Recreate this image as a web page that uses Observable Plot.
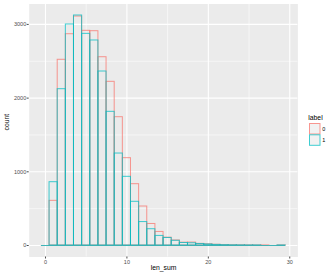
<!DOCTYPE html>
<html>
<head>
<meta charset="utf-8">
<script src="https://cdn.jsdelivr.net/npm/d3@7"></script>
<script src="https://cdn.jsdelivr.net/npm/@observablehq/plot@0.6"></script>
<style>
  html, body { margin: 0; padding: 0; background: white; }
  #wrap { position: relative; width: 333px; height: 278px; font-family: "Liberation Sans", Arial, sans-serif; }
  #legend { position: absolute; left: 0; top: 0; }
</style>
</head>
<body>
<div id="wrap"></div>
<script>
// bin centres (binwidth 1)
const bins = [0,1,2,3,4,5,6,7,8,9,10,11,12,13,14,15,16,17,18,19,20,21,22,23,24,25,26,27,28,29];
// counts for label "0"
const count0 = [0,606,2520,2867,3107,2913,2908,2555,2221,1741,1185,832,529,292,184,106,68,38,40,22,17,10,6,4,3,2,1,1,0,1];
// counts for label "1"
const count1 = [0,859,2121,2999,3121,2872,2782,2361,1814,1248,932,593,318,221,130,102,64,34,30,20,14,8,5,3,2,1,1,0,0,1];
const labels = ["0","1"];
const colors = ["#F8766D","#00BFC4"];
const xTicks = [0,10,20,30];
const xMinor = [5,15,25];
const yTicks = [0,1000,2000,3000];
const yMinor = [500,1500,2500];

const data = [];
[count0, count1].forEach((arr, k) => {
  bins.forEach((b, i) => data.push({label: labels[k], x: b, n: arr[i]}));
});

const lo = d3.min(bins) - 0.5, hi = d3.max(bins) + 0.5;
const xpad = (hi - lo) * 0.05;
const ymax = d3.max(data, d => d.n);
const ypad = ymax * 0.05;

const chart = Plot.plot({
  width: 333, height: 278,
  marginLeft: 28.7, marginRight: 35.6, marginTop: 3.5, marginBottom: 21.5,
  style: {background: "white", fontFamily: "'Liberation Sans', Arial, sans-serif"},
  x: {domain: [lo - xpad, hi + xpad], label: null},
  y: {domain: [-ypad, ymax + ypad], label: null},
  color: {domain: labels, range: colors},
  marks: [
    Plot.frame({fill: "#EBEBEB", stroke: null}),
    Plot.gridX(xMinor, {stroke: "white", strokeOpacity: 1, strokeWidth: 0.55}),
    Plot.gridX(xTicks, {stroke: "white", strokeOpacity: 1, strokeWidth: 1.1}),
    Plot.gridY(yMinor, {stroke: "white", strokeOpacity: 1, strokeWidth: 0.55}),
    Plot.gridY(yTicks, {stroke: "white", strokeOpacity: 1, strokeWidth: 1.1}),
    Plot.rect(data, {x1: d => d.x - 0.5, x2: d => d.x + 0.5, y1: 0, y2: "n",
      fill: "none", stroke: "label", strokeOpacity: 0.75, strokeWidth: 1}),
    Plot.ruleY(data, {y: 0, x1: d => d.x - 0.5, x2: d => d.x + 0.5,
      stroke: "label", strokeOpacity: 0.75, strokeWidth: 1}),
    Plot.axisX(xTicks, {tickSize: 2, tickPadding: 1, fontSize: 5.5, color: "#4D4D4D", label: null, tickFormat: d => String(d)}),
    Plot.axisY(yTicks, {tickSize: 2, tickPadding: 1, fontSize: 5.5, color: "#4D4D4D", label: null, tickFormat: d => String(d)}),
    Plot.text(["len_sum"], {frameAnchor: "bottom", dy: 13, fontSize: 6.8, fill: "black"}),
    Plot.text(["count"], {frameAnchor: "left", dx: -22.5, rotate: -90, fontSize: 6.8, fill: "black"})
  ]
});

const wrap = document.getElementById("wrap");
wrap.appendChild(chart);

// legend
const ns = "http://www.w3.org/2000/svg";
const leg = document.createElementNS(ns, "svg");
leg.setAttribute("id", "legend");
leg.setAttribute("width", 333);
leg.setAttribute("height", 278);
let html = `<text x="308.3" y="119.5" font-size="6.8" fill="black" font-family="Liberation Sans, Arial, sans-serif">label</text>`;
labels.forEach((l, i) => {
  const y = 123.5 + i * 11.3;
  html += `<rect x="309.5" y="${y}" width="10.5" height="10.5" fill="#F2F2F2" stroke="${colors[i]}" stroke-opacity="0.75" stroke-width="1"/>`;
  html += `<text x="322.3" y="${y + 7.3}" font-size="5.5" fill="black" font-family="Liberation Sans, Arial, sans-serif">${l}</text>`;
});
leg.innerHTML = html;
wrap.appendChild(leg);
</script>
</body>
</html>
